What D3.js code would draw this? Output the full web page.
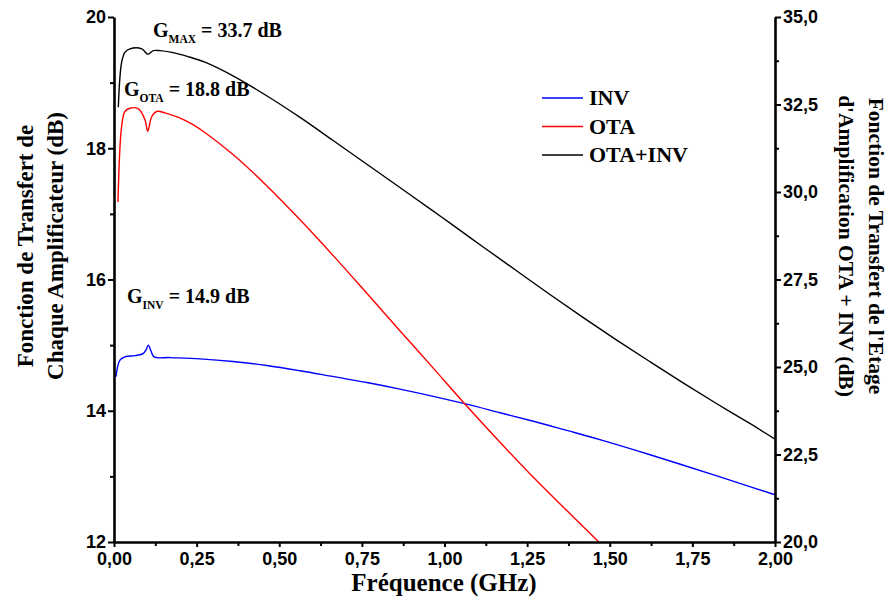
<!DOCTYPE html>
<html><head><meta charset="utf-8">
<script src="https://cdn.jsdelivr.net/npm/d3@7"></script>
<style>body{margin:0;background:#fff} svg{display:block}</style>
</head><body>
<svg id="c" width="894" height="603"></svg>
<script>
// ---- data ----
const invFreq = [0.006,0.018,0.033,0.064,0.088,0.097,0.104,0.112,0.121,0.169,0.26,0.36,0.462,0.563,0.664,0.765,0.865,0.966,1.067,1.168,1.269,1.37,1.47,1.622,1.723,1.859,2.0];
const invGain = [14.52,14.77,14.82,14.84,14.87,14.93,15.0,14.91,14.82,14.81,14.79,14.75,14.69,14.61,14.52,14.43,14.33,14.22,14.10,13.97,13.84,13.70,13.56,13.33,13.17,12.95,12.72];

const otaFreq = [0.012,0.023,0.033,0.048,0.074,0.094,0.102,0.114,0.129,0.154,0.195,0.235,0.275,0.361,0.462,0.563,0.664,0.765,0.865,0.966,1.057,1.168,1.268,1.37,1.467];
const otaGain = [17.18,18.33,18.56,18.61,18.60,18.43,18.26,18.48,18.56,18.54,18.47,18.37,18.24,17.90,17.43,16.91,16.36,15.79,15.22,14.65,14.13,13.52,12.99,12.48,12.0];

const totFreq = [0.013,0.023,0.033,0.048,0.084,0.102,0.119,0.139,0.175,0.224,0.275,0.36,0.462,0.563,0.663,0.764,0.865,0.965,1.017,1.117,1.218,1.319,1.42,1.521,1.622,1.723,1.824,1.925,2.0];
const totGain = [32.42,33.70,33.99,34.09,34.09,33.94,34.04,34.04,33.99,33.87,33.71,33.32,32.75,32.13,31.47,30.80,30.13,29.46,29.11,28.43,27.75,27.07,26.41,25.77,25.15,24.54,23.95,23.38,22.94];

const xTicks = [0,0.25,0.5,0.75,1.0,1.25,1.5,1.75,2.0];
const xMinor = [0.125,0.375,0.625,0.875,1.125,1.375,1.625,1.875];
const leftTicks = [12,14,16,18,20];
const leftMinor = [13,15,17,19];
const rightTicks = [20,22.5,25,27.5,30,32.5,35];
const rightMinor = [21.25,23.75,26.25,28.75,31.25,33.75];

const seriesNames = ["INV","OTA","OTA+INV"];
const seriesColors = ["#0000ff","#ff0000","#000000"];

// ---- scales ----
const svg = d3.select("#c");
const x = d3.scaleLinear().domain([0,2]).range([114,775]);
const yL = d3.scaleLinear().domain([12,20]).range([542,17]);
const yR = d3.scaleLinear().domain([20,35]).range([542,17]);

const comma = f => v => d3.format(f)(v).replace(".", ",");
const tickFont = "'Liberation Sans', Arial, sans-serif";
const serif = "'Liberation Serif', 'Times New Roman', serif";

// ---- curves ----
function drawLine(fs, gs, y, color){
  const pts = fs.map((f,i)=>[f, gs[i]]);
  svg.append("path")
    .attr("d", d3.line().x(d=>x(d[0])).y(d=>y(d[1])).curve(d3.curveCatmullRom.alpha(0.5))(pts))
    .attr("fill","none").attr("stroke",color).attr("stroke-width",1.4);
}
drawLine(invFreq, invGain, yL, seriesColors[0]);
drawLine(otaFreq, otaGain, yL, seriesColors[1]);
drawLine(totFreq, totGain, yR, seriesColors[2]);

// ---- axes ----
function styleAxis(g){
  g.select(".domain").attr("stroke-width",2.6).attr("stroke","#000");
  g.selectAll(".tick line").attr("stroke-width",2).attr("stroke","#000");
  g.selectAll(".tick text").attr("font-family",tickFont).attr("font-weight","bold").attr("font-size",18).attr("fill","#000");
}
const gx = svg.append("g").attr("transform","translate(0,542)")
  .call(d3.axisBottom(x).tickValues(xTicks).tickFormat(comma(".2f")).tickSize(5).tickPadding(5).tickSizeOuter(0));
styleAxis(gx);
const gxm = svg.append("g").attr("transform","translate(0,542)")
  .call(d3.axisBottom(x).tickValues(xMinor).tickFormat("").tickSize(4).tickSizeOuter(0));
styleAxis(gxm); gxm.select(".domain").remove();

const gl = svg.append("g").attr("transform","translate(114,0)")
  .call(d3.axisLeft(yL).tickValues(leftTicks).tickFormat(d3.format("d")).tickSize(6).tickPadding(2).tickSizeOuter(0));
styleAxis(gl);
const glm = svg.append("g").attr("transform","translate(114,0)")
  .call(d3.axisLeft(yL).tickValues(leftMinor).tickFormat("").tickSize(4).tickSizeOuter(0));
styleAxis(glm); glm.select(".domain").remove();

const gr = svg.append("g").attr("transform","translate(775,0)")
  .call(d3.axisRight(yR).tickValues(rightTicks).tickFormat(comma(".1f")).tickSize(6).tickPadding(2).tickSizeOuter(0));
styleAxis(gr);
const grm = svg.append("g").attr("transform","translate(775,0)")
  .call(d3.axisRight(yR).tickValues(rightMinor).tickFormat("").tickSize(4).tickSizeOuter(0));
styleAxis(grm); grm.select(".domain").remove();

// ---- axis titles ----
svg.append("text").attr("x",444).attr("y",591).attr("text-anchor","middle")
  .attr("font-family",serif).attr("font-weight","bold").attr("font-size",25)
  .text("Fréquence (GHz)");

const lt = svg.append("text").attr("transform","translate(33,246) rotate(-90)")
  .attr("text-anchor","middle").attr("font-family",serif).attr("font-weight","bold").attr("font-size",23);
lt.append("tspan").attr("x",0).attr("y",0).text("Fonction de Transfert de");
lt.append("tspan").attr("x",0).attr("y",30).text("Chaque Amplificateur (dB)");

const rt = svg.append("text").attr("transform","translate(869,246) rotate(90)")
  .attr("text-anchor","middle").attr("font-family",serif).attr("font-weight","bold").attr("font-size",21.5);
rt.append("tspan").attr("x",0).attr("y",0).text("Fonction de Transfert de l'Etage");
rt.append("tspan").attr("x",0).attr("y",30).text("d'Amplification OTA + INV (dB)");

// ---- annotations ----
function annot(xp, yp, sub, rest){
  const t = svg.append("text").attr("x",xp).attr("y",yp)
    .attr("font-family",serif).attr("font-weight","bold").attr("font-size",20);
  t.append("tspan").text("G");
  t.append("tspan").attr("font-size",11.5).attr("dy",6).text(sub);
  t.append("tspan").attr("dy",-6).text(" " + rest);
}
annot(153, 37, "MAX", "= 33.7 dB");
annot(124, 96, "OTA", "= 18.8 dB");
annot(127, 303, "INV", "= 14.9 dB");

// ---- legend ----
const leg = svg.append("g");
seriesNames.forEach((n,i)=>{
  const yy = 98 + i*28.5;
  leg.append("line").attr("x1",542).attr("x2",583).attr("y1",yy).attr("y2",yy)
    .attr("stroke",seriesColors[i]).attr("stroke-width",1.5);
  leg.append("text").attr("x",589).attr("y",yy+7).attr("font-family",serif)
    .attr("font-weight","bold").attr("font-size",22).text(n);
});
</script>
</body></html>
